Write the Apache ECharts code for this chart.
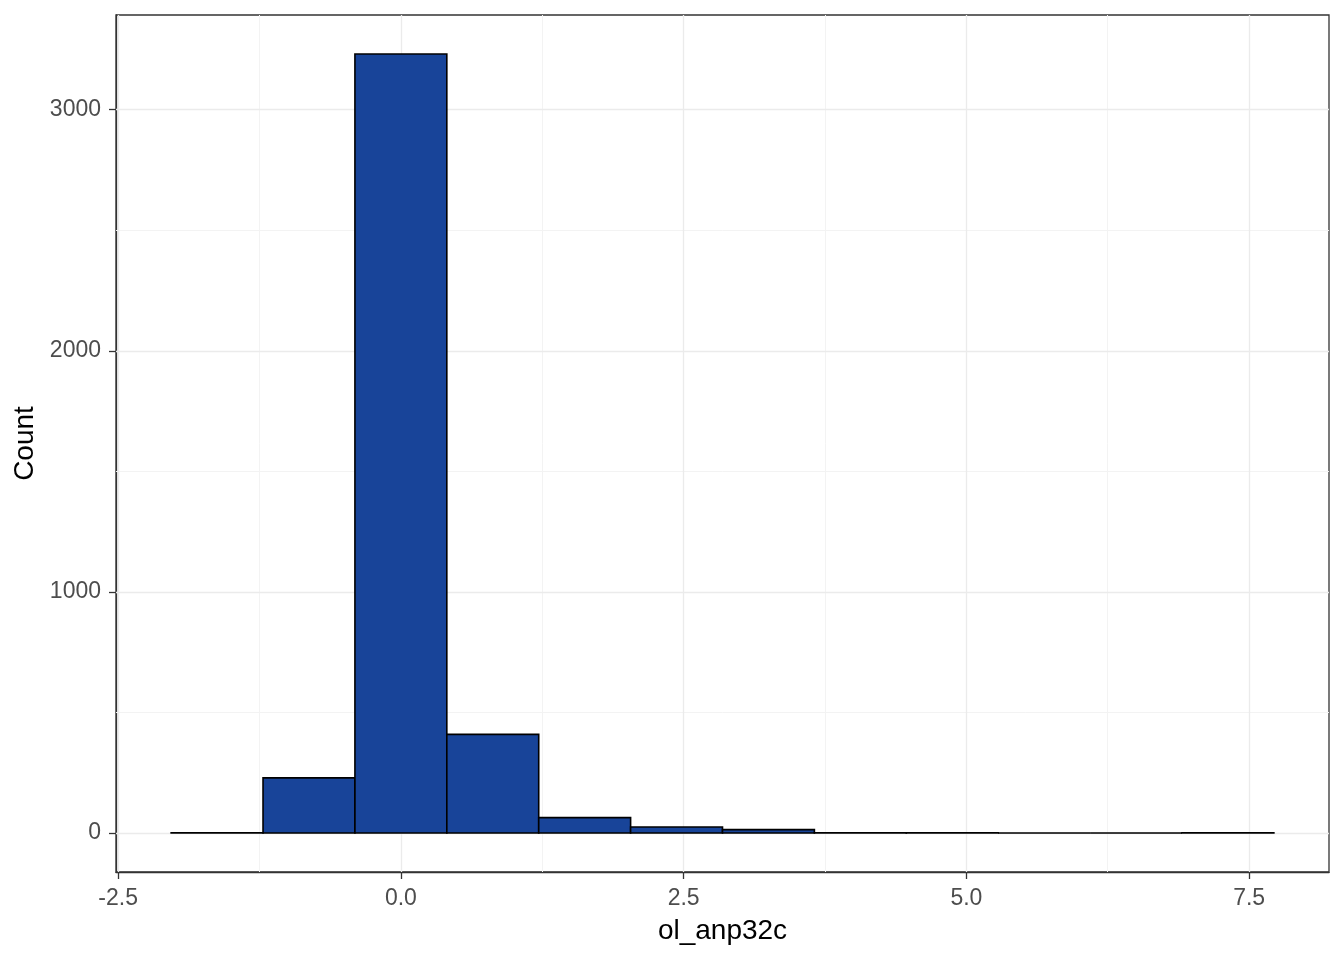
<!DOCTYPE html>
<html>
<head>
<meta charset="utf-8">
<script src="https://cdn.jsdelivr.net/npm/echarts@6/dist/echarts.min.js"></script>
<style>html,body{margin:0;padding:0;background:#fff;}#chart{width:1344px;height:960px;}</style>
</head>
<body>
<div id="chart"></div>
<script>
// Histogram bins (edges) and counts
const binEdges = [-2.03125, -1.21875, -0.40625, 0.40625, 1.21875, 2.03125, 2.84375, 3.65625, 4.46875, 5.28125, 6.09375, 6.90625, 7.71875];
const counts = [1, 229, 3231, 409, 64, 25, 14, 1, 1, 0, 0, 1];
const xTicks = [-2.5, 0, 2.5, 5, 7.5];
const xMinorTicks = [-1.25, 1.25, 3.75, 6.25];
const yTicks = [0, 1000, 2000, 3000];
const yMinorTicks = [500, 1500, 2500];
const xTitle = 'ol_anp32c';
const yTitle = 'Count';

const data = counts.map((c, i) => [binEdges[i], binEdges[i + 1], c]);
const FONT = '"Liberation Sans", Arial, sans-serif';

const gridLines = [];
xMinorTicks.forEach(v => gridLines.push({ xAxis: v, lineStyle: { type: 'solid', color: '#f3f3f3', width: 1 } }));
yMinorTicks.forEach(v => gridLines.push({ yAxis: v, lineStyle: { type: 'solid', color: '#f3f3f3', width: 1 } }));
xTicks.forEach(v => gridLines.push({ xAxis: v, lineStyle: { type: 'solid', color: '#ebebeb', width: 1.3 } }));
yTicks.forEach(v => gridLines.push({ yAxis: v, lineStyle: { type: 'solid', color: '#ebebeb', width: 1.3 } }));

const chart = echarts.init(document.getElementById('chart'), null, { renderer: 'canvas' });
chart.setOption({
  animation: false,
  backgroundColor: '#ffffff',
  grid: {
    left: 116, right: 15, top: 15, bottom: 88,
    show: true, borderColor: '#333333', borderWidth: 1.3, backgroundColor: 'transparent'
  },
  xAxis: {
    type: 'value',
    min: -2.51875, max: 8.20625,
    name: xTitle, nameLocation: 'middle', nameGap: 45,
    nameTextStyle: { color: '#000', fontSize: 28, fontFamily: FONT },
    axisLine: { show: true, onZero: false, lineStyle: { color: '#333333', width: 1.3 } },
    axisTick: { show: true, inside: false, length: 7, customValues: xTicks, lineStyle: { color: '#333333', width: 1.3 } },
    axisLabel: { customValues: xTicks, margin: 15, color: '#4d4d4d', fontSize: 23, fontFamily: FONT,
      formatter: v => v.toFixed(1) },
    splitLine: { show: false }
  },
  yAxis: {
    type: 'value',
    min: -161.55, max: 3392.55,
    name: yTitle, nameLocation: 'middle', nameGap: 76, nameRotate: 90,
    nameTextStyle: { color: '#000', fontSize: 28, fontFamily: FONT },
    axisLine: { show: true, onZero: false, lineStyle: { color: '#333333', width: 1.3 } },
    axisTick: { show: true, inside: false, length: 7, customValues: yTicks, lineStyle: { color: '#333333', width: 1.3 } },
    axisLabel: { customValues: yTicks, margin: 15, color: '#4d4d4d', fontSize: 23, fontFamily: FONT,
      formatter: v => String(v) },
    splitLine: { show: false }
  },
  series: [
    {
      type: 'line', data: [], z: 1, silent: true,
      markLine: { silent: true, symbol: 'none', label: { show: false }, animation: false, data: gridLines }
    },
    {
      type: 'custom', z: 5,
      data: data,
      renderItem: function (params, api) {
        const p0 = api.coord([api.value(0), api.value(2)]);
        const p1 = api.coord([api.value(1), 0]);
        return {
          type: 'rect',
          shape: { x: p0[0], y: p0[1], width: p1[0] - p0[0], height: p1[1] - p0[1] },
          style: { fill: '#184499', stroke: '#000000', lineWidth: 1.6 }
        };
      }
    }
  ]
});
</script>
</body>
</html>
